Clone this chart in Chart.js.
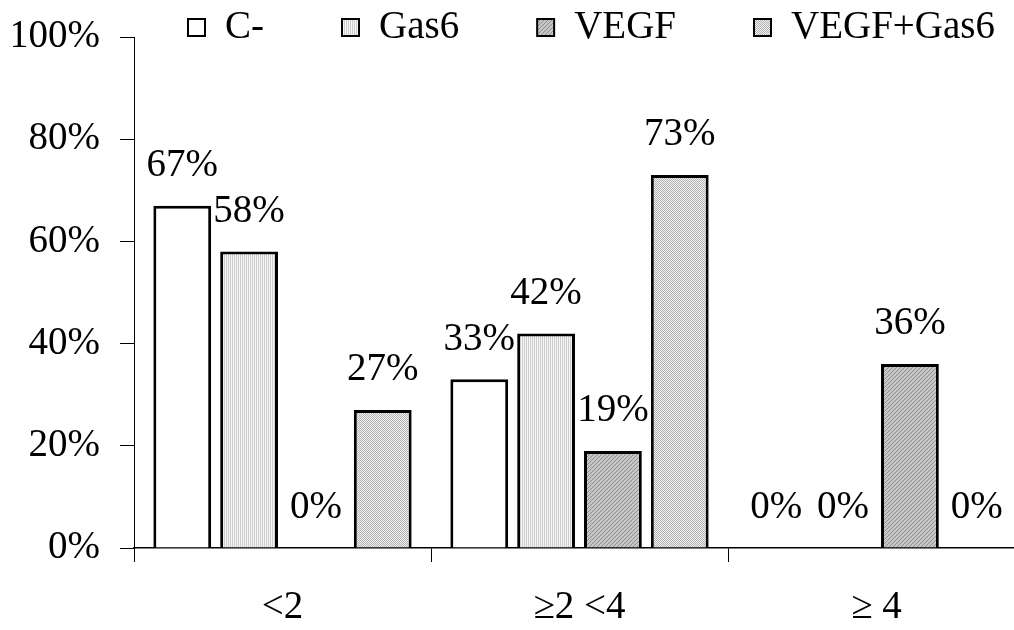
<!DOCTYPE html>
<html>
<head>
<meta charset="utf-8">
<script src="https://cdn.jsdelivr.net/npm/chart.js@4"></script>
<style>
  html, body { margin: 0; padding: 0; background: #fff; overflow: hidden; }
  #wrap { width: 1030px; height: 630px; }
</style>
</head>
<body>
<div id="wrap"><canvas id="myChart"></canvas></div>
<script>
// Data
const categories = ['<2', '\u22652 <4', '\u2265 4'];
const seriesNames = ['C-', 'Gas6', 'VEGF', 'VEGF+Gas6'];
const cMinus = [67, 33, 0];
const gas6 = [58, 42, 0];
const vegf = [0, 19, 36];
const vegfGas6 = [27, 73, 0];
const yTicks = [0, 20, 40, 60, 80, 100];

const FONT = 'Liberation Serif';
const FONT_SIZE = 39;

// small tiles to mimic the old excel fill patterns
function makePattern(size, draw) {
  const c = document.createElement('canvas');
  c.width = size; c.height = size;
  const g = c.getContext('2d');
  draw(g);
  return g.createPattern(c, 'repeat');
}

const plainFill = '#ffffff';
const gas6Fill = makePattern(2, g => {
  g.fillStyle = '#f6f6f6'; g.fillRect(0, 0, 2, 2);
  g.fillStyle = '#cdcdcd'; g.fillRect(0, 0, 1, 2);
});
const vegfFill = makePattern(4, g => {
  g.fillStyle = '#c6c6c6'; g.fillRect(0, 0, 4, 4);
  g.fillStyle = '#8e8e8e';
  for (let i = 0; i < 4; i++) g.fillRect(i, 3 - i, 1, 1);
});
const comboFill = makePattern(2, g => {
  g.fillStyle = '#f0f0f0'; g.fillRect(0, 0, 2, 2);
  g.fillStyle = '#b4b4b4'; g.fillRect(0, 0, 1, 1); g.fillRect(1, 1, 1, 1);
});

// value labels above each bar
const valueLabels = {
  id: 'valueLabels',
  afterDatasetsDraw(chart) {
    const ctx = chart.ctx;
    ctx.save();
    ctx.font = FONT_SIZE + 'px "' + FONT + '"';
    ctx.fillStyle = '#000';
    ctx.textAlign = 'center';
    ctx.textBaseline = 'middle';
    chart.data.datasets.forEach((ds, i) => {
      chart.getDatasetMeta(i).data.forEach((bar, j) => {
        ctx.fillText(ds.data[j] + '%', bar.x, bar.y - 40);
      });
    });
    ctx.restore();
  }
};

// legend drawn by hand so the gaps between items can be wide while the row stays thin
const boxLegend = {
  id: 'boxLegend',
  afterDraw(chart) {
    const ctx = chart.ctx;
    ctx.save();
    ctx.font = FONT_SIZE + 'px "' + FONT + '"';
    ctx.textBaseline = 'middle';
    let x = 188;
    const y = 27;
    chart.data.datasets.forEach(ds => {
      ctx.fillStyle = ds.backgroundColor;
      ctx.fillRect(x, y - 8, 17, 17);
      ctx.lineWidth = 2;
      ctx.strokeStyle = '#000';
      ctx.strokeRect(x, y - 8, 17, 17);
      ctx.fillStyle = '#000';
      ctx.fillText(ds.label, x + 37, y + 1);
      x += 37 + ctx.measureText(ds.label).width + 78;
    });
    ctx.restore();
  }
};

const barStyle = {
  borderColor: '#000',
  borderWidth: 3,
  categoryPercentage: 0.9,
  barPercentage: 0.865
};

const data = {
  labels: categories,
  datasets: [
    { label: seriesNames[0], data: cMinus, backgroundColor: plainFill, ...barStyle },
    { label: seriesNames[1], data: gas6, backgroundColor: gas6Fill, ...barStyle },
    { label: seriesNames[2], data: vegf, backgroundColor: vegfFill, ...barStyle },
    { label: seriesNames[3], data: vegfGas6, backgroundColor: comboFill, ...barStyle }
  ]
};

const config = {
  type: 'bar',
  data,
  plugins: [valueLabels, boxLegend],
  options: {
    responsive: true,
    maintainAspectRatio: false,
    animation: false,
    layout: { padding: { top: 37, left: 13, right: 5, bottom: 0 } },
    plugins: {
      legend: { display: false },
      tooltip: { enabled: false }
    },
    scales: {
      x: {
        afterFit: axis => { axis.height = 82; },
        grid: { drawOnChartArea: false, drawTicks: true, tickLength: 14, color: '#000', offset: true },
        border: { display: true, color: '#000', width: 1.5 },
        ticks: { color: '#000', font: { family: FONT, size: FONT_SIZE }, padding: 22, maxRotation: 0 }
      },
      y: {
        min: yTicks[0],
        max: yTicks[yTicks.length - 1],
        afterBuildTicks: axis => { axis.ticks = yTicks.map(v => ({ value: v })); },
        afterFit: axis => {
          axis.width = 121;
          axis.paddingTop = 0;
          axis.paddingBottom = 0;
        },
        grid: { drawOnChartArea: false, tickLength: 14, color: '#000' },
        border: { display: true, color: '#000', width: 1 },
        ticks: {
          color: '#000',
          font: { family: FONT, size: FONT_SIZE },
          padding: 20,
          callback: v => v + '%'
        }
      }
    }
  }
};

const myChart = new Chart(document.getElementById('myChart'), config);
</script>
</body>
</html>
